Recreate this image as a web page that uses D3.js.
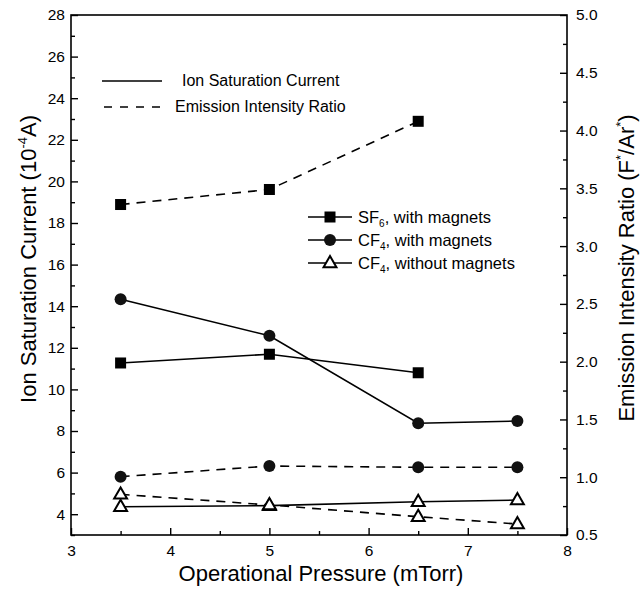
<!DOCTYPE html>
<html>
<head>
<meta charset="utf-8">
<script src="https://cdn.jsdelivr.net/npm/d3@7"></script>
<style>
  body { margin: 0; background: #fff; }
  text { font-family: "Liberation Sans", Arial, sans-serif; fill: #000; }
</style>
</head>
<body>
<div id="chart"></div>
<script>
// data
var pressure = [3.5, 5, 6.5, 7.5];
var sf6Ion = [11.27, 11.69, 10.8];
var sf6Emis = [3.36, 3.49, 4.08];
var cf4MagIon = [14.33, 12.58, 8.37, 8.48];
var cf4MagEmis = [1.005, 1.097, 1.086, 1.086];
var cf4NoIon = [4.36, 4.41, 4.6, 4.68];
var cf4NoEmis = [0.852, 0.76, 0.658, 0.595];

var xTicks = [3, 4, 5, 6, 7, 8];
var leftTicks = [4, 6, 8, 10, 12, 14, 16, 18, 20, 22, 24, 26, 28];
var rightTicks = [0.5, 1.0, 1.5, 2.0, 2.5, 3.0, 3.5, 4.0, 4.5, 5.0];

var W = 641, H = 591;
var m = {left: 71, right: 567, top: 15, bottom: 535};

var svg = d3.select("#chart").append("svg")
  .attr("width", W).attr("height", H);

var x = d3.scaleLinear().domain([3, 8]).range([m.left, m.right]);
var yL = d3.scaleLinear().domain([3, 28]).range([m.bottom, m.top]);
var yR = d3.scaleLinear().domain([0.5, 5.0]).range([m.bottom, m.top]);

// frame
svg.append("rect")
  .attr("x", m.left).attr("y", m.top)
  .attr("width", m.right - m.left).attr("height", m.bottom - m.top)
  .attr("fill", "none").attr("stroke", "#000").attr("stroke-width", 1.6);

// axes, ticks pointing inside
var fmtR = d3.format(".1f");
var ax = svg.append("g").attr("transform", "translate(0," + m.bottom + ")")
  .call(d3.axisBottom(x).tickValues(xTicks).tickSize(-7).tickPadding(10).tickFormat(d3.format("d")));
var axMinor = svg.append("g").attr("transform", "translate(0," + m.bottom + ")")
  .call(d3.axisBottom(x).tickValues(d3.range(3.5, 8, 1)).tickSize(-4).tickFormat(""));
var al = svg.append("g").attr("transform", "translate(" + m.left + ",0)")
  .call(d3.axisLeft(yL).tickValues(leftTicks).tickSize(-7).tickPadding(6));
var alMinor = svg.append("g").attr("transform", "translate(" + m.left + ",0)")
  .call(d3.axisLeft(yL).tickValues(d3.range(3, 28, 2)).tickSize(-4).tickFormat(""));
var ar = svg.append("g").attr("transform", "translate(" + m.right + ",0)")
  .call(d3.axisRight(yR).tickValues(rightTicks).tickSize(-7).tickPadding(9).tickFormat(fmtR));
var arMinor = svg.append("g").attr("transform", "translate(" + m.right + ",0)")
  .call(d3.axisRight(yR).tickValues(d3.range(0.75, 5, 0.5)).tickSize(-4).tickFormat(""));

[ax, axMinor, al, alMinor, ar, arMinor].forEach(function(g){
  g.select(".domain").remove();
  g.selectAll(".tick line").attr("stroke", "#000").attr("stroke-width", 1.4);
  g.selectAll(".tick text").style("font-size", "15.5px")
    .style("font-family", "'Liberation Sans', Arial, sans-serif");
});

// axis titles
svg.append("text").attr("x", (m.left + m.right) / 2 + 2).attr("y", 581)
  .attr("text-anchor", "middle").style("font-size", "22px")
  .text("Operational Pressure (mTorr)");

var lt = svg.append("text")
  .attr("transform", "translate(36,259) rotate(-90)")
  .attr("text-anchor", "middle").style("font-size", "22px");
lt.append("tspan").text("Ion Saturation Current (10");
lt.append("tspan").attr("dy", -9).style("font-size", "13px").text("-4");
lt.append("tspan").attr("dy", 9).text("A)");

var rt = svg.append("text")
  .attr("transform", "translate(634,268) rotate(-90)")
  .attr("text-anchor", "middle").style("font-size", "22px");
rt.append("tspan").text("Emission Intensity Ratio (F");
rt.append("tspan").attr("dy", -9).style("font-size", "13px").text("*");
rt.append("tspan").attr("dy", 9).text("/Ar");
rt.append("tspan").attr("dy", -9).style("font-size", "13px").text("*");
rt.append("tspan").attr("dy", 9).text(")");

// series
var series = [
  {vals: sf6Ion, y: yL, dash: null, mark: "square"},
  {vals: sf6Emis, y: yR, dash: "9,7", mark: "square"},
  {vals: cf4MagIon, y: yL, dash: null, mark: "circle"},
  {vals: cf4MagEmis, y: yR, dash: "9,7", mark: "circle"},
  {vals: cf4NoIon, y: yL, dash: null, mark: "triangle"},
  {vals: cf4NoEmis, y: yR, dash: "9,7", mark: "triangle"}
];

function drawMark(g, type, cx, cy) {
  if (type === "square") {
    g.append("rect").attr("x", cx - 5.5).attr("y", cy - 5.5)
      .attr("width", 11).attr("height", 11).attr("fill", "#000");
  } else if (type === "circle") {
    g.append("circle").attr("cx", cx).attr("cy", cy).attr("r", 6)
      .attr("fill", "#111");
  } else {
    g.append("path")
      .attr("d", d3.symbol().type(d3.symbolTriangle).size(72)())
      .attr("transform", "translate(" + cx + "," + (cy + 0.5) + ")")
      .attr("fill", "#fff").attr("stroke", "#000").attr("stroke-width", 2);
  }
}

var plot = svg.append("g");
series.forEach(function(s){
  var pts = s.vals.map(function(v, i){ return [x(pressure[i]), s.y(v)]; });
  plot.append("path")
    .attr("d", d3.line()(pts))
    .attr("fill", "none").attr("stroke", "#000").attr("stroke-width", 1.6)
    .attr("stroke-dasharray", s.dash);
});
series.forEach(function(s){
  s.vals.forEach(function(v, i){ drawMark(plot, s.mark, x(pressure[i]), s.y(v)); });
});

// legend: line styles
var leg = svg.append("g");
leg.append("line").attr("x1", 102).attr("x2", 162).attr("y1", 81).attr("y2", 81)
  .attr("stroke", "#000").attr("stroke-width", 1.6);
leg.append("text").attr("x", 182).attr("y", 80).attr("dy", "0.35em")
  .style("font-size", "16px").text("Ion Saturation Current");
leg.append("line").attr("x1", 104).attr("x2", 168).attr("y1", 107).attr("y2", 107)
  .attr("stroke", "#000").attr("stroke-width", 1.6).attr("stroke-dasharray", "8,8");
leg.append("text").attr("x", 175).attr("y", 106).attr("dy", "0.35em")
  .style("font-size", "16px").text("Emission Intensity Ratio");

// legend: series markers
var legItems = [
  {mark: "square", gas: "SF", sub: "6", rest: ", with magnets"},
  {mark: "circle", gas: "CF", sub: "4", rest: ", with magnets"},
  {mark: "triangle", gas: "CF", sub: "4", rest: ", without magnets"}
];
legItems.forEach(function(d, i){
  var yy = 217 + i * 23;
  leg.append("line").attr("x1", 308).attr("x2", 352).attr("y1", yy).attr("y2", yy)
    .attr("stroke", "#000").attr("stroke-width", 1.6);
  drawMark(leg, d.mark, 330, yy);
  var t = leg.append("text").attr("x", 358).attr("y", yy).attr("dy", "0.35em")
    .style("font-size", "16.5px");
  t.append("tspan").text(d.gas);
  t.append("tspan").attr("dy", 4).style("font-size", "10px").text(d.sub);
  t.append("tspan").attr("dy", -4).text(d.rest);
});
</script>
</body>
</html>
